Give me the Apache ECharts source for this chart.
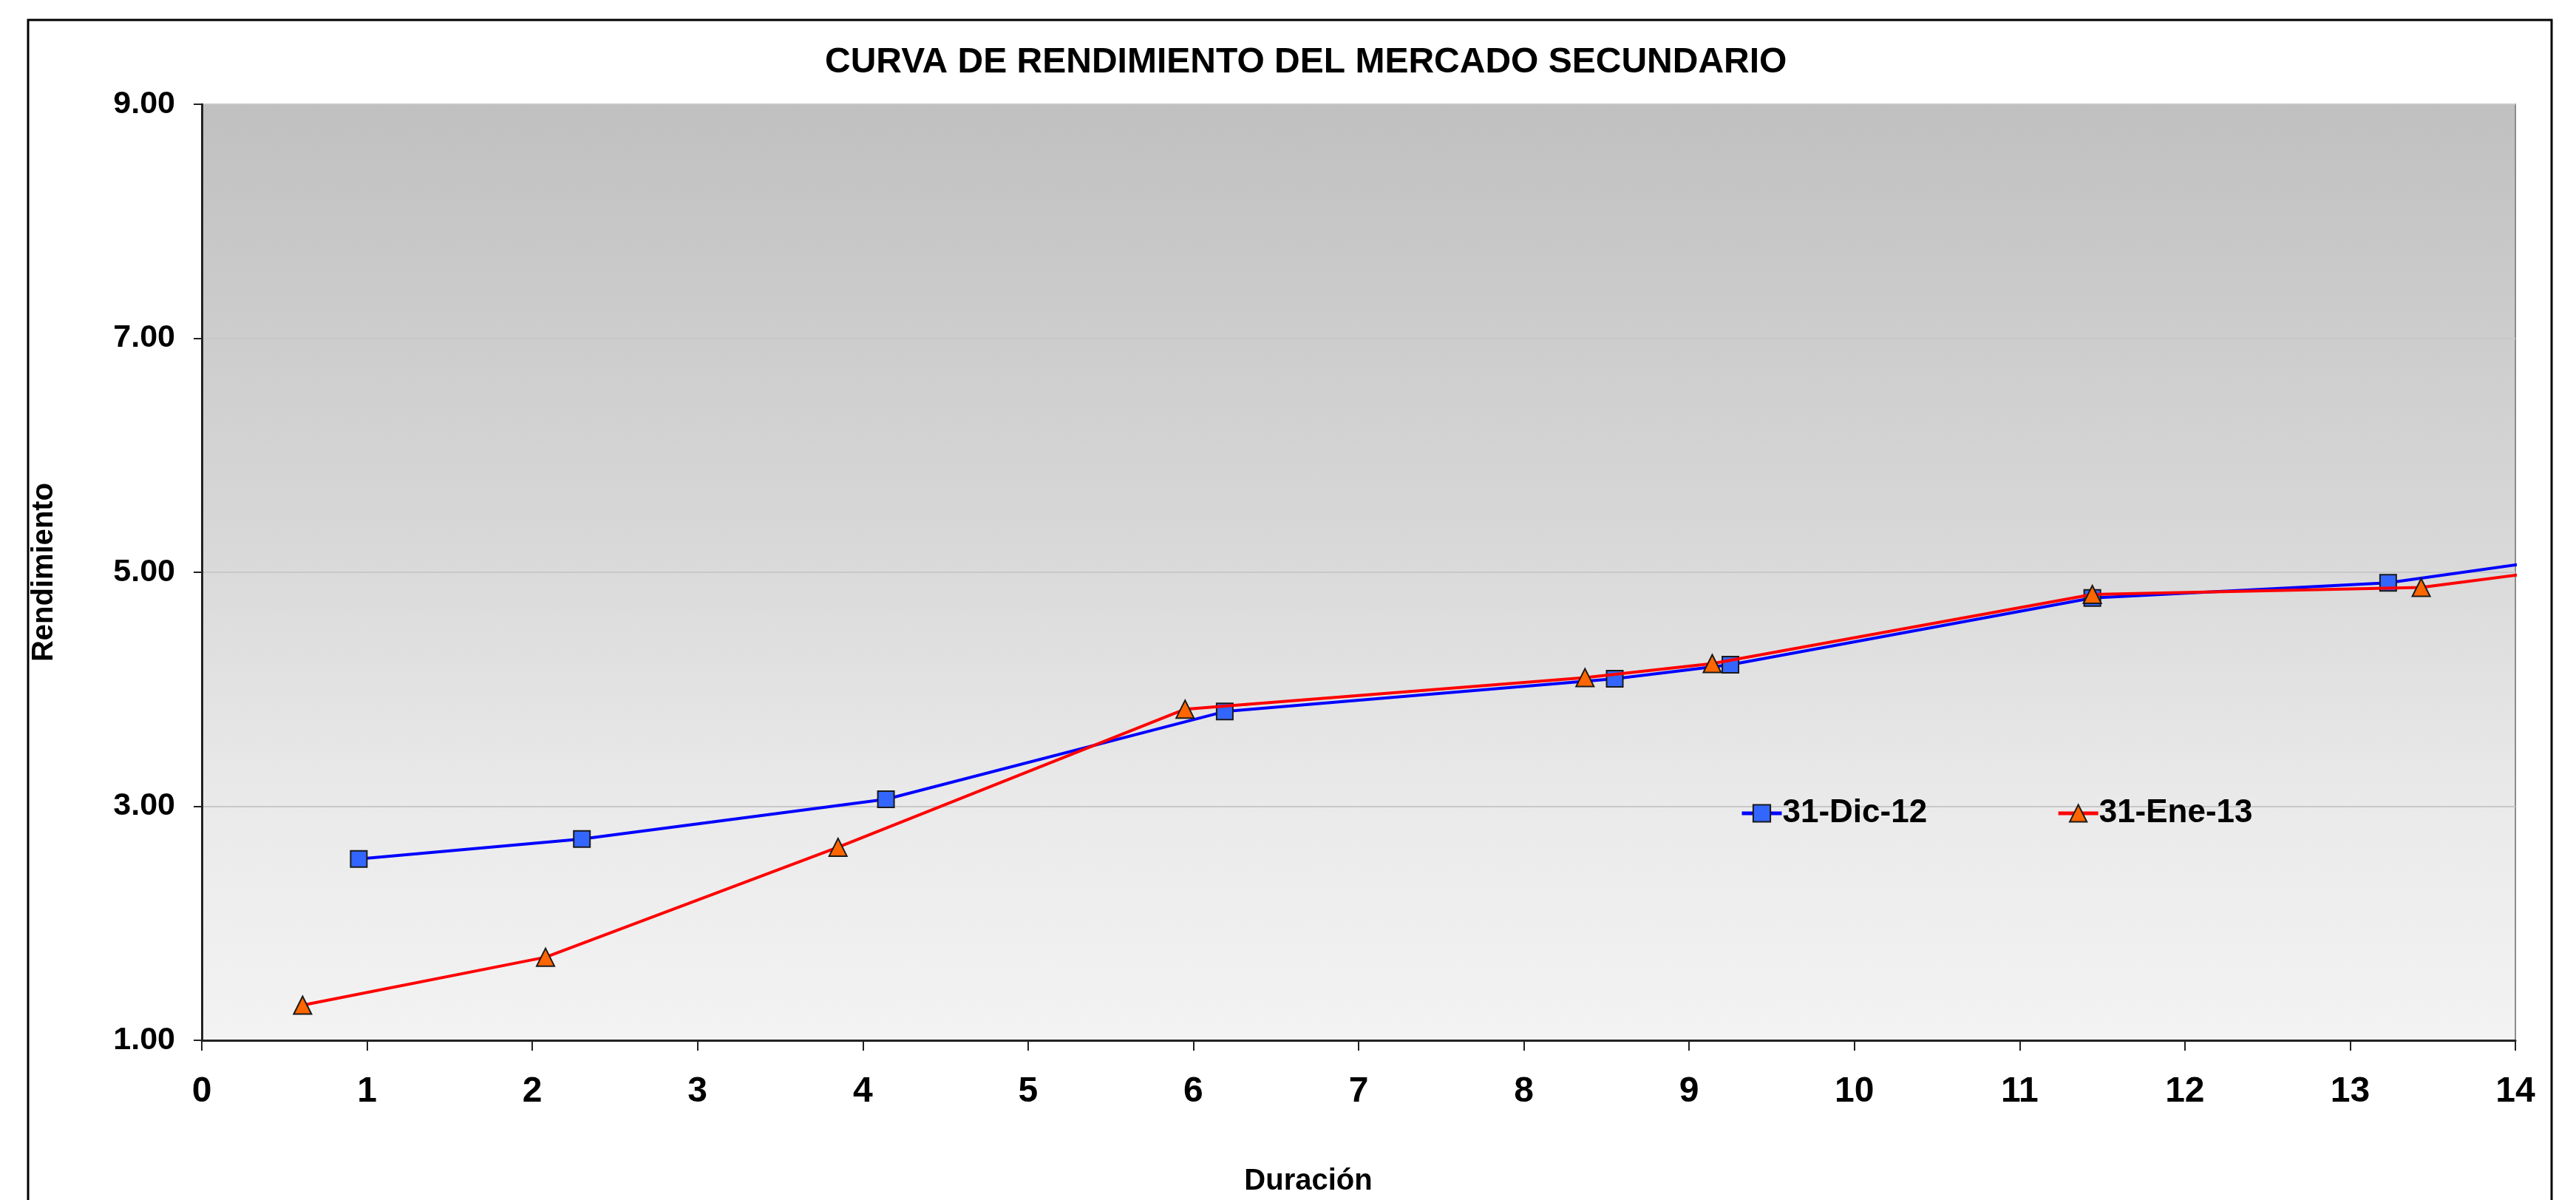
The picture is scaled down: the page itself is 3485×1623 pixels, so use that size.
<!DOCTYPE html>
<html>
<head>
<meta charset="utf-8">
<script src="https://cdn.jsdelivr.net/npm/echarts@6/dist/echarts.min.js"></script>
<style>
  html, body { margin: 0; padding: 0; background: #fff; }
  #chart { width: 3485px; height: 1623px; }
</style>
</head>
<body>
<div id="chart"></div>
<script>
// ---- data ----
const titleText = 'CURVA DE RENDIMIENTO DEL MERCADO SECUNDARIO';
const xAxisName = 'Duración';
const yAxisName = 'Rendimiento';
const seriesNames = ['31-Dic-12', '31-Ene-13'];
const dicX = [0.95, 2.30, 4.14, 6.19, 8.55, 9.25, 11.44, 13.23, 16.0];
const dicY = [2.55, 2.72, 3.06, 3.81, 4.09, 4.21, 4.78, 4.91, 5.46];
const eneX = [0.61, 2.08, 3.85, 5.95, 8.37, 9.14, 11.44, 13.43, 16.0];
const eneY = [1.30, 1.71, 2.65, 3.83, 4.10, 4.22, 4.81, 4.87, 5.34];
const xMin = 0, xMax = 14, xStep = 1;
const yMin = 1, yMax = 9, yStep = 2;

const FONT = '"Liberation Sans", Arial, sans-serif';
const pairs = (xs, ys) => xs.map((x, i) => [x, ys[i]]);

const chart = echarts.init(document.getElementById('chart'), null, { renderer: 'canvas' });
chart.setOption({
  backgroundColor: '#ffffff',
  animation: false,
  title: {
    text: titleText,
    left: 1116,
    top: 61,
    padding: 0,
    textStyle: { fontFamily: FONT, fontWeight: 'bold', fontSize: 48, color: '#000' }
  },
  graphic: [
    {
      type: 'rect', silent: true, z: -10,
      shape: { x: 38, y: 27, width: 3414, height: 1700 },
      style: { fill: null, stroke: '#000', lineWidth: 3 }
    },
    {
      type: 'text', x: 1770, y: 1598, z: 10,
      style: {
        text: xAxisName, font: 'bold 40px ' + FONT, fill: '#000',
        textAlign: 'center', textVerticalAlign: 'middle'
      }
    }
  ],
  legend: {
    left: 2354,
    top: 1078,
    itemWidth: 54,
    itemHeight: 29,
    itemGap: 175,
    padding: 0,
    textStyle: { fontFamily: FONT, fontWeight: 'bold', fontSize: 44, color: '#000', padding: [0, 0, 0, -4] },
    data: [
      { name: seriesNames[0], lineStyle: { width: 5 } },
      { name: seriesNames[1], lineStyle: { width: 5 } }
    ]
  },
  grid: {
    left: 273, right: 82, top: 141, bottom: 216,
    show: true,
    borderColor: '#8c8c8c',
    borderWidth: 2,
    backgroundColor: {
      type: 'linear', x: 0, y: 0, x2: 0, y2: 1,
      colorStops: [
        { offset: 0, color: '#c0c0c0' },
        { offset: 0.45, color: '#d7d7d7' },
        { offset: 0.75, color: '#eaeaea' },
        { offset: 1, color: '#f3f3f3' }
      ]
    }
  },
  xAxis: {
    type: 'value',
    min: xMin, max: xMax, interval: xStep,
    axisLine: { show: true, onZero: false, lineStyle: { color: '#222', width: 3 } },
    axisTick: { show: true, inside: false, length: 14, lineStyle: { color: '#222', width: 2 } },
    splitLine: { show: false },
    axisLabel: {
      margin: 46, fontFamily: FONT, fontWeight: 'bold', fontSize: 48, color: '#000',
      showMinLabel: true, showMaxLabel: true
    }
  },
  yAxis: {
    type: 'value',
    min: yMin, max: yMax, interval: yStep,
    name: yAxisName,
    nameLocation: 'middle',
    nameGap: 193,
    nameRotate: 90,
    nameTextStyle: { fontFamily: FONT, fontWeight: 'bold', fontSize: 40, color: '#000' },
    axisLine: { show: true, onZero: false, lineStyle: { color: '#222', width: 3 } },
    axisTick: { show: true, inside: false, length: 11, lineStyle: { color: '#222', width: 2 } },
    splitLine: { show: true, lineStyle: { color: '#c8c8c8', width: 2 } },
    axisLabel: {
      margin: 36, fontFamily: FONT, fontWeight: 'bold', fontSize: 43, color: '#000',
      formatter: v => v.toFixed(2)
    }
  },
  series: [
    {
      name: seriesNames[0],
      type: 'line',
      data: pairs(dicX, dicY),
      clip: true,
      symbol: 'rect',
      symbolSize: 22,
      lineStyle: { color: '#0000ff', width: 4 },
      itemStyle: { color: '#3366ff', borderColor: '#1a1a1a', borderWidth: 2 },
      z: 3
    },
    {
      name: seriesNames[1],
      type: 'line',
      data: pairs(eneX, eneY),
      clip: true,
      symbol: 'triangle',
      symbolSize: [24, 24],
      lineStyle: { color: '#ff0000', width: 4 },
      itemStyle: { color: '#ff6600', borderColor: '#1a1a1a', borderWidth: 2 },
      z: 4
    }
  ]
});
</script>
</body>
</html>
